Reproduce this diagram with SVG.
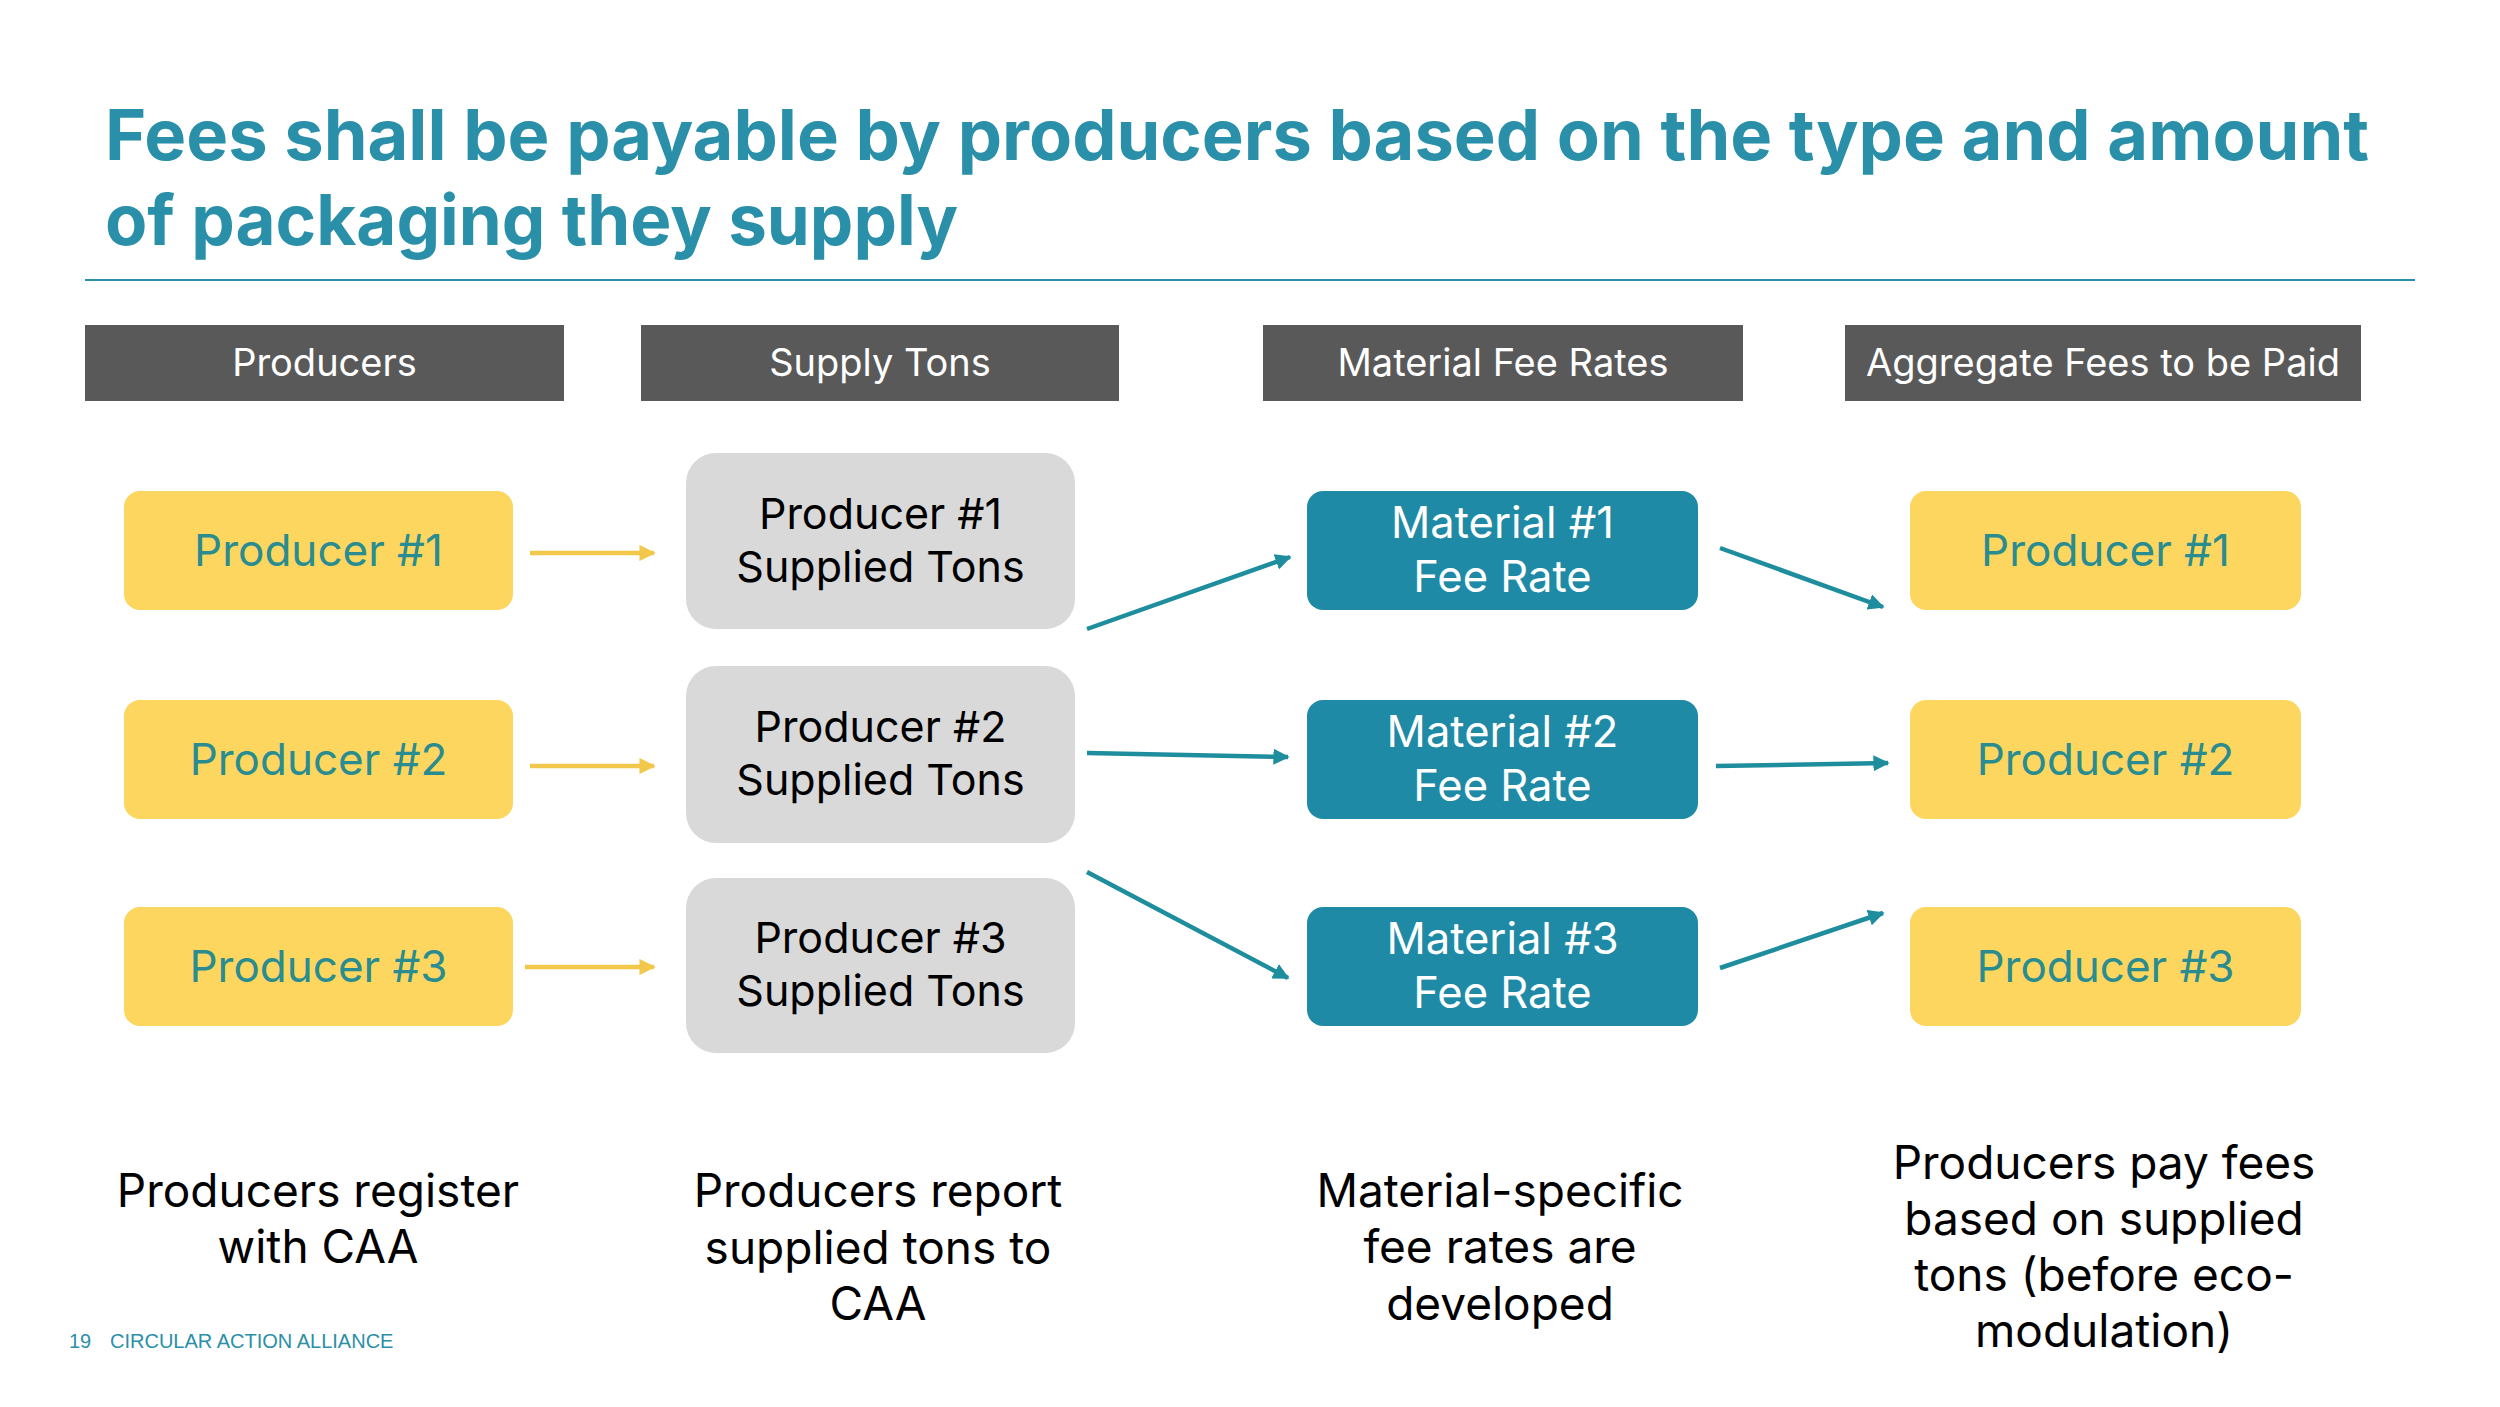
<svg xmlns="http://www.w3.org/2000/svg" width="2500" height="1407" viewBox="0 0 2500 1407">
<defs>
<style>
.title{font-family:Inter,"Noto Sans",sans-serif;font-weight:700;font-size:70px;fill:#2A8FA8}
.hdr{fill:#595959}
.hdrt{font-family:Inter,"Noto Sans",sans-serif;font-size:38px;fill:#ffffff;text-anchor:middle}
.yel{fill:#FDD65F}
.yelt{font-family:Inter,"Noto Sans",sans-serif;font-size:44px;fill:#288C90;text-anchor:middle}
.gry{fill:#D9D9D9}
.gryt{font-family:Inter,"Noto Sans",sans-serif;font-size:43px;fill:#000000;text-anchor:middle}
.tea{fill:#1F8AA5}
.teat{font-family:Inter,"Noto Sans",sans-serif;font-size:43.5px;fill:#ffffff;text-anchor:middle}
.desc{font-family:Inter,"Noto Sans",sans-serif;font-size:46px;fill:#000000;text-anchor:middle}
.foot{font-family:"Liberation Sans",Arial,sans-serif;font-size:20px;fill:#2A8FA8}
.ya{stroke:#F2C84B;stroke-width:4.5;fill:none;marker-end:url(#ah-y)}
.ta{stroke:#1E8D9E;stroke-width:4.5;fill:none;marker-end:url(#ah-t)}
</style>
<marker id="ah-y" viewBox="0 0 10 10" refX="9" refY="5" markerWidth="3.6" markerHeight="3.6" orient="auto" markerUnits="strokeWidth">
<path d="M0,0 L10,5 L0,10 z" fill="#F2C84B"/>
</marker>
<marker id="ah-t" viewBox="0 0 10 10" refX="9" refY="5" markerWidth="3.6" markerHeight="3.6" orient="auto" markerUnits="strokeWidth">
<path d="M0,0 L10,5 L0,10 z" fill="#1E8D9E"/>
</marker>
</defs>
<rect width="2500" height="1407" fill="#ffffff"/>
<g id="title">
<text class="title" x="105" y="160" textLength="2264" lengthAdjust="spacingAndGlyphs">Fees shall be payable by producers based on the type and amount</text>
<text class="title" x="105" y="245" textLength="853" lengthAdjust="spacingAndGlyphs">of packaging they supply</text>
<rect x="85" y="279" width="2330" height="2" fill="#2A8FA8"/>
</g>
<g id="hdr-producers"><rect class="hdr" x="85" y="325" width="479" height="76"/><text class="hdrt" x="324.5" y="376">Producers</text></g>
<g id="hdr-supply"><rect class="hdr" x="641" y="325" width="478" height="76"/><text class="hdrt" x="880" y="376">Supply Tons</text></g>
<g id="hdr-material"><rect class="hdr" x="1263" y="325" width="480" height="76"/><text class="hdrt" x="1503" y="376">Material Fee Rates</text></g>
<g id="hdr-aggregate"><rect class="hdr" x="1845" y="325" width="516" height="76"/><text class="hdrt" x="2103" y="376">Aggregate Fees to be Paid</text></g>

<g id="p1"><rect class="yel" x="124" y="491" width="389" height="119" rx="16"/><text class="yelt" x="318.5" y="566">Producer #1</text></g>
<g id="p2"><rect class="yel" x="124" y="700" width="389" height="119" rx="16"/><text class="yelt" x="318.5" y="775">Producer #2</text></g>
<g id="p3"><rect class="yel" x="124" y="907" width="389" height="119" rx="16"/><text class="yelt" x="318.5" y="982">Producer #3</text></g>

<g id="s1"><rect class="gry" x="686" y="453" width="389" height="176" rx="30"/><text class="gryt" x="880.5" y="529">Producer #1</text><text class="gryt" x="880.5" y="582">Supplied Tons</text></g>
<g id="s2"><rect class="gry" x="686" y="666" width="389" height="177" rx="30"/><text class="gryt" x="880.5" y="742">Producer #2</text><text class="gryt" x="880.5" y="795">Supplied Tons</text></g>
<g id="s3"><rect class="gry" x="686" y="878" width="389" height="175" rx="30"/><text class="gryt" x="880.5" y="953">Producer #3</text><text class="gryt" x="880.5" y="1006">Supplied Tons</text></g>

<g id="m1"><rect class="tea" x="1307" y="491" width="391" height="119" rx="16"/><text class="teat" x="1502.5" y="538">Material #1</text><text class="teat" x="1502.5" y="592">Fee Rate</text></g>
<g id="m2"><rect class="tea" x="1307" y="700" width="391" height="119" rx="16"/><text class="teat" x="1502.5" y="747">Material #2</text><text class="teat" x="1502.5" y="801">Fee Rate</text></g>
<g id="m3"><rect class="tea" x="1307" y="907" width="391" height="119" rx="16"/><text class="teat" x="1502.5" y="954">Material #3</text><text class="teat" x="1502.5" y="1008">Fee Rate</text></g>

<g id="r1"><rect class="yel" x="1910" y="491" width="391" height="119" rx="16"/><text class="yelt" x="2105.5" y="566">Producer #1</text></g>
<g id="r2"><rect class="yel" x="1910" y="700" width="391" height="119" rx="16"/><text class="yelt" x="2105.5" y="775">Producer #2</text></g>
<g id="r3"><rect class="yel" x="1910" y="907" width="391" height="119" rx="16"/><text class="yelt" x="2105.5" y="982">Producer #3</text></g>

<g id="connectors">
<line class="ya" x1="530" y1="553" x2="654" y2="553"/>
<line class="ya" x1="530" y1="766" x2="654" y2="766"/>
<line class="ya" x1="525" y1="967" x2="654" y2="967"/>
<line class="ta" x1="1087" y1="629" x2="1290" y2="557"/>
<line class="ta" x1="1087" y1="753" x2="1288" y2="757"/>
<line class="ta" x1="1087" y1="872" x2="1288" y2="978"/>
<line class="ta" x1="1720" y1="548" x2="1883" y2="607"/>
<line class="ta" x1="1716" y1="766" x2="1888" y2="763"/>
<line class="ta" x1="1720" y1="968" x2="1883" y2="913"/>
</g>

<g id="desc">
<text class="desc" x="318" y="1207">Producers register</text>
<text class="desc" x="318" y="1263">with CAA</text>
<text class="desc" x="878" y="1207">Producers report</text>
<text class="desc" x="878" y="1264">supplied tons to</text>
<text class="desc" x="878" y="1320">CAA</text>
<text class="desc" x="1500" y="1207">Material-specific</text>
<text class="desc" x="1500" y="1263">fee rates are</text>
<text class="desc" x="1500" y="1320">developed</text>
<text class="desc" x="2104" y="1179">Producers pay fees</text>
<text class="desc" x="2104" y="1235">based on supplied</text>
<text class="desc" x="2104" y="1291">tons (before eco-</text>
<text class="desc" x="2104" y="1347">modulation)</text>
</g>
<g id="footer">
<text class="foot" x="69" y="1348">19</text>
<text class="foot" x="110" y="1348">CIRCULAR ACTION ALLIANCE</text>
</g>
</svg>
